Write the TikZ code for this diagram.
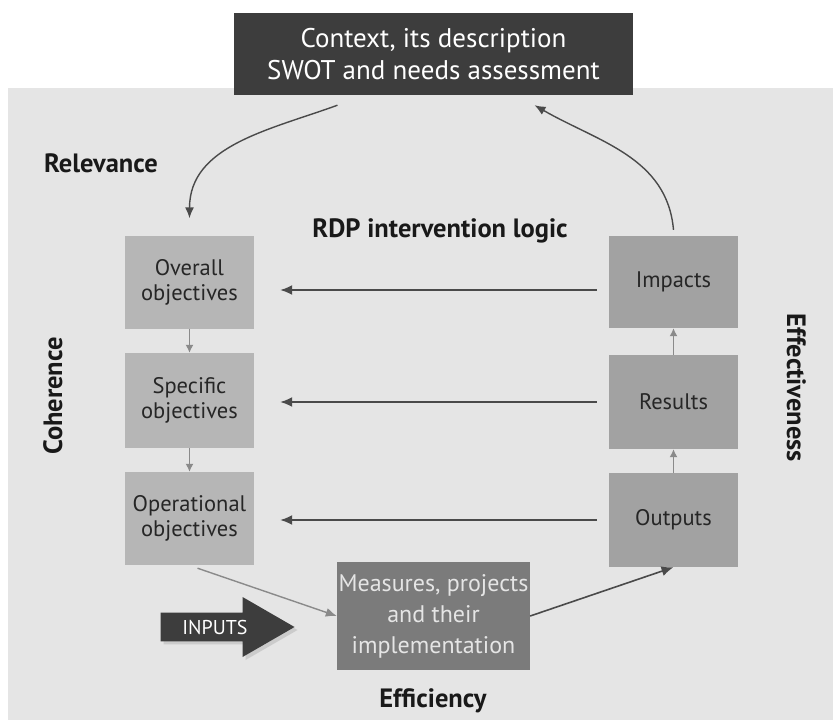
\documentclass[tikz,border=0pt]{standalone}
\usepackage{fontspec}
\setmainfont{PT Sans}
\usepackage{xcolor}
\usetikzlibrary{arrows.meta, positioning, shapes.arrows, shadows}
\definecolor{bggray}{HTML}{E5E5E5}
\definecolor{darkbox}{HTML}{3D3D3D}
\definecolor{objgray}{HTML}{B6B6B6}
\definecolor{resgray}{HTML}{A2A2A2}
\definecolor{measgray}{HTML}{7B7B7B}
\definecolor{linegray}{HTML}{4A4A4A}
\definecolor{lightline}{HTML}{8A8A8A}
\tikzset{
    contextbox/.style = {rectangle, minimum width=399pt, minimum height=82pt, align=center, fill=darkbox, text=white, font=\fontsize{27}{32}\selectfont},
    objbox/.style = {rectangle, minimum width=129pt, minimum height=93pt, align=center, fill=objgray, text=black!85, font=\fontsize{22.5}{25}\selectfont},
    resbox/.style = {objbox, fill=resgray},
    measbox/.style = {rectangle, minimum width=193pt, minimum height=108pt, inner sep=0pt, align=center, fill=measgray, text=white!90!black, font=\fontsize{24}{31}\selectfont},
    label/.style = {font=\bfseries\fontsize{26.5}{30}\selectfont, text=black!90},
    looparrow/.style = {line width=1.4pt, draw=linegray, -{Latex[length=11pt, width=9pt]}},
    backarrow/.style = {line width=1.8pt, draw=linegray, -{Latex[length=12pt, width=10pt]}},
    steparrow/.style = {line width=1.3pt, draw=lightline, -{Latex[length=8pt, width=8pt]}},
    feedarrow/.style = {line width=1.4pt, draw=lightline, -{Latex[length=11pt, width=9pt]}}
}

\begin{document}
\begin{tikzpicture}[x=1pt, y=-1pt]
\useasboundingbox (0,0) rectangle (833,720);
\fill[bggray] (8,88) rectangle (833,720);

\node (context) [contextbox] at (433.5,54) {Context, its description\\SWOT and needs assessment};

\node (overall) [objbox] at (189.5,282) {Overall\\objectives};
\node (specific) [objbox, minimum height=95pt] at (189.5,400.5) {Specific\\objectives};
\node (operational) [objbox] at (189.5,518.5) {Operational\\objectives};

\node (impacts) [resbox, minimum height=92pt] at (673.5,282) {Impacts};
\node (results) [resbox, minimum height=94pt] at (673.5,402) {Results};
\node (outputs) [resbox, minimum height=94pt] at (673.5,520) {Outputs};

\node (measures) [measbox] at (433.5,616) {Measures, projects\\and their\\implementation};
\node (inputs) [single arrow, fill=darkbox, text=white, minimum height=134pt, minimum width=60pt, single arrow head extend=15.5pt, single arrow tip angle=60, inner sep=7pt, drop shadow={opacity=0.25, shadow xshift=3pt, shadow yshift=-3pt}, font=\fontsize{20}{22}\selectfont] at (215,627) {INPUTS};

\node (relevance) [label, anchor=base] at (101,172) {Relevance};
\node (logic) [label, anchor=base] at (440,237) {RDP intervention logic};
\node (efficiency) [label, anchor=base] at (433,707) {Efficiency};
\node (coherence) [label, rotate=90, anchor=base] at (62,396) {Coherence};
\node (effectiveness) [label, rotate=-90, anchor=base] at (787,388) {Effectiveness};

\draw [looparrow] ([xshift=-96pt, yshift=-10pt]context.south) to[out=200, in=90] ([yshift=17pt]overall.north);
\draw [looparrow] ([yshift=6pt]impacts.north) to[out=95, in=-30] ([xshift=101pt, yshift=-10pt]context.south);

\draw [backarrow, shorten <=12pt, shorten >=26pt] ([yshift=-8pt]impacts.west) -- ([yshift=-8pt]overall.east);
\draw [backarrow, shorten <=12pt, shorten >=26pt] (results.west) -- (results.west -| specific.east);
\draw [backarrow, shorten <=12pt, shorten >=26pt] (outputs.west) -- (outputs.west -| operational.east);

\draw [steparrow] (overall) -- (specific);
\draw [steparrow] (specific) -- (operational);
\draw [steparrow] (outputs) -- (results);
\draw [steparrow] (results) -- (impacts);

\draw [feedarrow] ([xshift=8pt, yshift=-3pt]operational.south) -- (measures.west);
\draw [backarrow, line width=1.6pt] (measures.east) -- (outputs.south);
\end{tikzpicture}
\end{document}
